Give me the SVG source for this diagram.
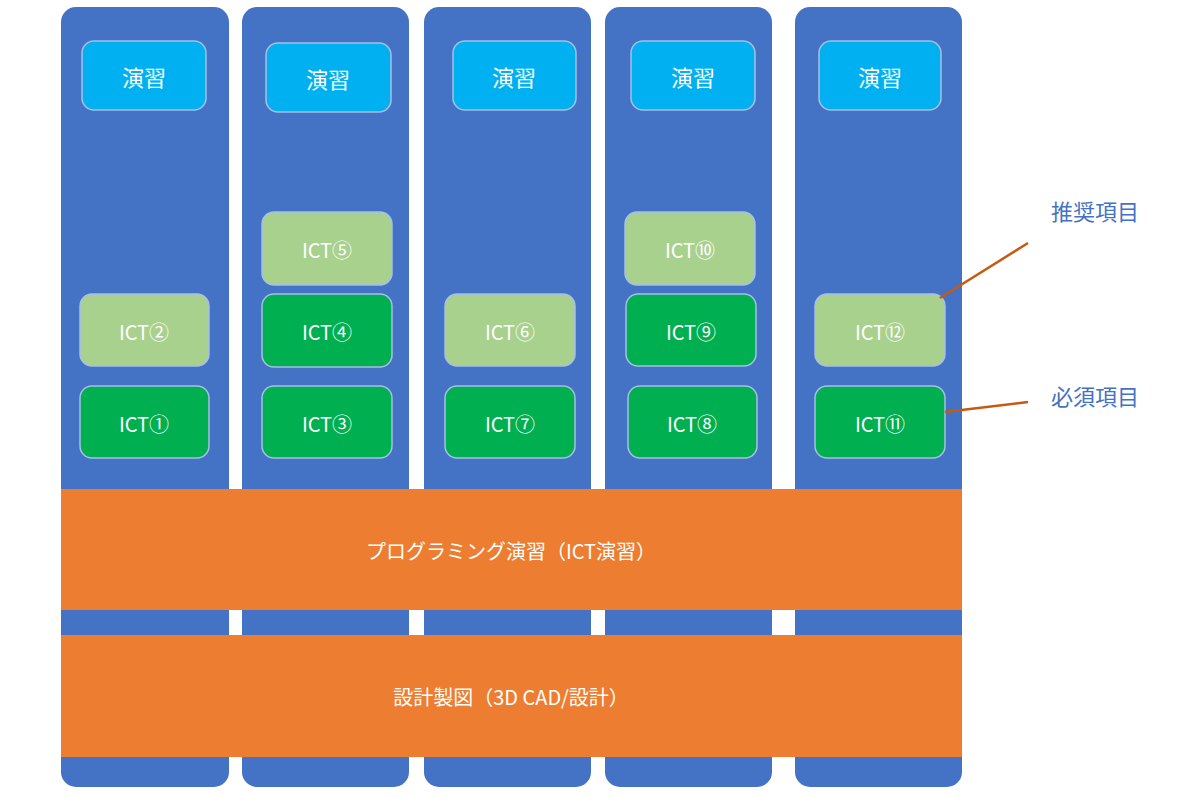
<svg xmlns="http://www.w3.org/2000/svg" width="1200" height="798" viewBox="0 0 1200 798">
<style>
text{font-family:"Noto Sans CJK JP","Noto Sans",sans-serif;fill:#fff;text-anchor:middle;dominant-baseline:central}
.col{fill:#4472c4}
.b{stroke:#a8bfe6;stroke-width:1.5}
.c{fill:#00b0f0}
.lg{fill:#a9d18e}
.dg{fill:#00b050}
.o{fill:#ed7d31}
.t{font-size:22px}
.i{font-size:20px}
.lab{fill:#4472c4;font-size:22px}
.ln{stroke:#c55a11;stroke-width:2.5;fill:none}
</style>
<rect width="1200" height="798" fill="#fff"/>
<g id="columns">
<rect class="col" x="61" y="7" width="168" height="780" rx="15"/>
<rect class="col" x="242" y="7" width="167" height="780" rx="15"/>
<rect class="col" x="424" y="7" width="167" height="780" rx="15"/>
<rect class="col" x="605" y="7" width="167" height="780" rx="15"/>
<rect class="col" x="795" y="7" width="167" height="780" rx="15"/>
</g>
<g id="ex1"><rect class="c b" x="82" y="41" width="124" height="69" rx="12"/><text class="t" x="144" y="76">演習</text></g>
<g id="ex2"><rect class="c b" x="266" y="43" width="125" height="69" rx="12"/><text class="t" x="328" y="78">演習</text></g>
<g id="ex3"><rect class="c b" x="453" y="41" width="123" height="69" rx="12"/><text class="t" x="514" y="76">演習</text></g>
<g id="ex4"><rect class="c b" x="631" y="41" width="124" height="69" rx="12"/><text class="t" x="693" y="76">演習</text></g>
<g id="ex5"><rect class="c b" x="819" y="41" width="122" height="69" rx="12"/><text class="t" x="880" y="76">演習</text></g>
<g id="ict5"><rect class="lg b" x="262" y="212" width="130" height="73" rx="12"/><text class="i" x="327" y="249">ICT⑤</text></g>
<g id="ict10"><rect class="lg b" x="625" y="212" width="130" height="73" rx="12"/><text class="i" x="690" y="249">ICT⑩</text></g>
<g id="ict2"><rect class="lg b" x="80" y="294" width="129" height="72" rx="12"/><text class="i" x="144" y="331">ICT②</text></g>
<g id="ict4"><rect class="dg b" x="262" y="294" width="130" height="73" rx="12"/><text class="i" x="327" y="331">ICT④</text></g>
<g id="ict6"><rect class="lg b" x="445" y="294" width="130" height="72" rx="12"/><text class="i" x="510" y="331">ICT⑥</text></g>
<g id="ict9"><rect class="dg b" x="626" y="294" width="130" height="72" rx="12"/><text class="i" x="691" y="331">ICT⑨</text></g>
<g id="ict12"><rect class="lg b" x="815" y="294" width="130" height="72" rx="12"/><text class="i" x="880" y="331">ICT⑫</text></g>
<g id="ict1"><rect class="dg b" x="80" y="386" width="129" height="72" rx="12"/><text class="i" x="144" y="423">ICT①</text></g>
<g id="ict3"><rect class="dg b" x="262" y="386" width="130" height="72" rx="12"/><text class="i" x="327" y="423">ICT③</text></g>
<g id="ict7"><rect class="dg b" x="445" y="386" width="130" height="72" rx="12"/><text class="i" x="510" y="423">ICT⑦</text></g>
<g id="ict8"><rect class="dg b" x="628" y="386" width="129" height="72" rx="12"/><text class="i" x="692" y="423">ICT⑧</text></g>
<g id="ict11"><rect class="dg b" x="815" y="386" width="130" height="72" rx="12"/><text class="i" x="880" y="423">ICT⑪</text></g>
<g id="prog"><rect class="o" x="61" y="489" width="901" height="121"/><text class="i" x="511" y="550">プログラミング演習（ICT演習）</text></g>
<g id="cad"><rect class="o" x="61" y="635" width="901" height="122"/><text class="i" x="511" y="696">設計製図（3D CAD/設計）</text></g>
<g id="connectors">
<line class="ln" x1="1028" y1="243" x2="940" y2="298"/>
<line class="ln" x1="1028" y1="402" x2="945" y2="412"/>
</g>
<g id="labels">
<text class="lab" x="1095" y="210">推奨項目</text>
<text class="lab" x="1095" y="395">必須項目</text>
</g>
</svg>
